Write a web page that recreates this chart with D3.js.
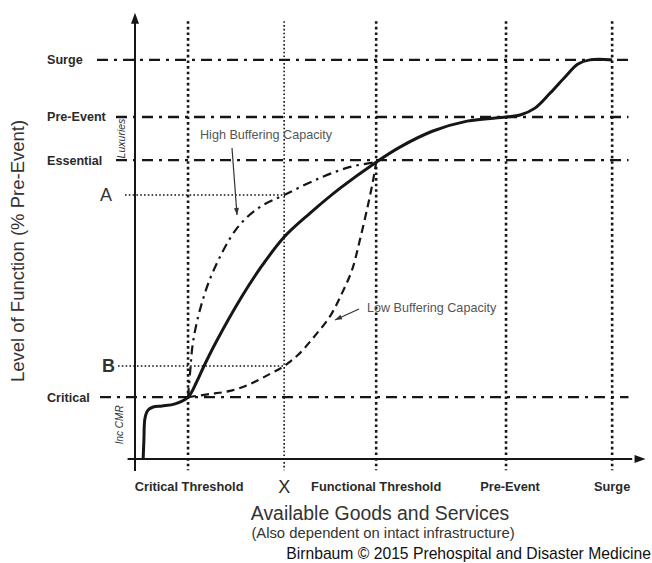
<!DOCTYPE html>
<html>
<head>
<meta charset="utf-8">
<script src="https://cdn.jsdelivr.net/npm/d3@7.9.0/dist/d3.min.js"></script>
<style>
  body { margin: 0; background: #fff; }
  svg { display: block; font-family: 'Liberation Sans', Arial, sans-serif; }
</style>
</head>
<body>
<svg id="chart" width="652" height="563"></svg>
<script>
// goods as % of pre-event supply (x), function as % of pre-event (y)
const xTickLabels = ['Critical Threshold', 'X', 'Functional Threshold', 'Pre-Event', 'Surge'];
const xTickValues = [14.3, 40.2, 65.0, 100, 128.6];

const levelLabels = ['Surge', 'Pre-Event', 'Essential', 'Critical'];
const levelValues = [116.7, 100, 87.4, 18.1];

const pointLabels = ['A', 'B'];
const pointValues = [77.2, 27.2];

const mainCurve = [
  [2.2, 0], [2.4, 5.6], [2.7, 12.0], [3.5, 14.3], [4.9, 15.2], [7.3, 15.5],
  [10.8, 16.1], [14.3, 18.1], [16.6, 22.5], [18.6, 27.2], [22.0, 34.5],
  [28.8, 47.5], [33.9, 56.0], [40.2, 64.9], [47.2, 71.9], [55.3, 79.2],
  [65.0, 86.8], [71.4, 91.2], [80.3, 95.9], [89.5, 98.8], [100, 100],
  [103.8, 100.6], [107.8, 102.6], [111.9, 107.0], [115.9, 111.7],
  [119.4, 115.5], [122.6, 116.7], [128.6, 116.7]
];

const highBuffer = [
  [14.3, 18.1], [14.9, 26.0], [15.6, 33.9], [17.5, 43.6], [21.0, 54.7],
  [27.5, 67.5], [33.7, 73.7], [40.2, 77.2], [49.9, 82.2], [58.0, 85.4], [65.0, 86.8]
];

const lowBuffer = [
  [14.3, 18.1], [20.2, 19.0], [25.6, 19.9], [31.0, 21.9], [36.4, 24.9],
  [40.2, 27.2], [43.9, 30.4], [48.0, 35.4], [52.6, 41.8], [55.8, 48.5],
  [58.5, 55.3], [60.6, 64.0], [62.8, 74.3], [64.2, 81.6], [65.0, 86.8]
];

const svg = d3.select('#chart');
const ink = '#161616';

const x = d3.scaleLinear().domain([0, 136]).range([135, 639.6]);
const y = d3.scaleLinear().domain([0, 130]).range([459, 14.4]);

// vertical reference lines (dotted)
svg.append('g')
  .selectAll('line')
  .data(xTickValues)
  .join('line')
  .attr('x1', d => x(d)).attr('x2', d => x(d))
  .attr('y1', y(128)).attr('y2', y(-3.3))
  .attr('stroke', ink)
  .attr('stroke-width', (d, i) => i === 1 ? 1.6 : 2.6)
  .attr('stroke-dasharray', (d, i) => i === 1 ? '1.6,2.2' : '2.6,3')
  .attr('stroke-linecap', 'butt');

// horizontal level lines (dash-dot)
const levelStart = [97, 116, 116, 100];
svg.append('g')
  .selectAll('line')
  .data(levelValues)
  .join('line')
  .attr('x1', (d, i) => levelStart[i]).attr('x2', x(133))
  .attr('y1', d => y(d)).attr('y2', d => y(d))
  .attr('stroke', ink)
  .attr('stroke-width', 2.4)
  .attr('stroke-dasharray', '11,6,3,6');

// A and B fine dotted lines up to the X line
const pointStart = [125, 118];
svg.append('g')
  .selectAll('line')
  .data(pointValues)
  .join('line')
  .attr('x1', (d, i) => pointStart[i]).attr('x2', x(xTickValues[1]))
  .attr('y1', d => y(d)).attr('y2', d => y(d))
  .attr('stroke', ink)
  .attr('stroke-width', 1.6)
  .attr('stroke-dasharray', '1.6,2.2');

// axes
svg.append('line')
  .attr('x1', x(0)).attr('x2', x(0))
  .attr('y1', y(127.5)).attr('y2', y(-3.5))
  .attr('stroke', ink).attr('stroke-width', 2);
svg.append('line')
  .attr('x1', x(-2)).attr('x2', x(134))
  .attr('y1', y(0)).attr('y2', y(0))
  .attr('stroke', ink).attr('stroke-width', 2);
svg.append('path')
  .attr('d', `M${x(0)},${y(130.5)} l-4,11 l8,0 Z`)
  .attr('fill', ink);
svg.append('path')
  .attr('d', `M${x(137.6)},${y(0)} l-11,-4 l0,8 Z`)
  .attr('fill', ink);

const line = d3.line()
  .x(d => x(d[0]))
  .y(d => y(d[1]))
  .curve(d3.curveCatmullRom.alpha(0.5));

svg.append('path')
  .datum(highBuffer)
  .attr('d', line)
  .attr('fill', 'none')
  .attr('stroke', ink)
  .attr('stroke-width', 2.2)
  .attr('stroke-dasharray', '9,5,2.5,5');

svg.append('path')
  .datum(lowBuffer)
  .attr('d', line)
  .attr('fill', 'none')
  .attr('stroke', ink)
  .attr('stroke-width', 2.2)
  .attr('stroke-dasharray', '8,5');

svg.append('path')
  .datum(mainCurve)
  .attr('d', line)
  .attr('fill', 'none')
  .attr('stroke', ink)
  .attr('stroke-width', 3);

// level labels on the left
svg.append('g')
  .selectAll('text')
  .data(levelLabels)
  .join('text')
  .attr('x', 47)
  .attr('y', (d, i) => y(levelValues[i]))
  .attr('dy', '0.35em')
  .attr('font-size', 12.6)
  .attr('font-weight', 'bold')
  .attr('fill', '#2a2a2a')
  .text(d => d);

svg.append('g')
  .selectAll('text')
  .data(pointLabels)
  .join('text')
  .attr('x', (d, i) => i === 0 ? 100 : 102)
  .attr('y', (d, i) => y(pointValues[i]))
  .attr('dy', '0.36em')
  .attr('font-size', 18)
  .attr('font-weight', (d, i) => i === 1 ? 'bold' : 'normal')
  .attr('fill', '#333')
  .text(d => d);

// small rotated notes
svg.append('text')
  .attr('transform', `translate(125,${(y(levelValues[1]) + y(levelValues[2])) / 2}) rotate(-90)`)
  .attr('text-anchor', 'middle')
  .attr('font-size', 10.5)
  .attr('font-style', 'italic')
  .attr('fill', '#333')
  .text('Luxuries');

svg.append('text')
  .attr('transform', `translate(123,${y(10)}) rotate(-90)`)
  .attr('text-anchor', 'middle')
  .attr('font-size', 10)
  .attr('font-style', 'italic')
  .attr('fill', '#333')
  .text('Inc CMR');

// x labels
svg.append('g')
  .selectAll('text')
  .data(xTickLabels)
  .join('text')
  .attr('x', (d, i) => x(xTickValues[i]) + [1, 0, 0, 4, 0][i])
  .attr('y', 487)
  .attr('dy', '0.35em')
  .attr('text-anchor', 'middle')
  .attr('font-size', (d, i) => i === 1 ? 18 : 12.8)
  .attr('font-weight', (d, i) => i === 1 ? 'normal' : 'bold')
  .attr('fill', '#2a2a2a')
  .text(d => d);

// axis titles
svg.append('text')
  .attr('transform', `translate(18,251) rotate(-90)`)
  .attr('text-anchor', 'middle')
  .attr('dy', '0.35em')
  .attr('font-size', 18.5)
  .attr('fill', '#333')
  .text('Level of Function (% Pre-Event)');

svg.append('text')
  .attr('x', 380).attr('y', 513)
  .attr('dy', '0.35em')
  .attr('text-anchor', 'middle')
  .attr('font-size', 19.4)
  .attr('fill', '#333')
  .text('Available Goods and Services');

svg.append('text')
  .attr('x', 383).attr('y', 533)
  .attr('dy', '0.35em')
  .attr('text-anchor', 'middle')
  .attr('font-size', 14.8)
  .attr('fill', '#333')
  .text('(Also dependent on intact infrastructure)');

svg.append('text')
  .attr('x', 651).attr('y', 554)
  .attr('dy', '0.35em')
  .attr('text-anchor', 'end')
  .attr('font-size', 15.7)
  .attr('fill', '#111')
  .text('Birnbaum © 2015 Prehospital and Disaster Medicine');

// curve annotations with arrows
const notes = [
  { text: 'High Buffering Capacity', tx: 200, ty: 135, from: [232, 148], to: [237, 215] },
  { text: 'Low Buffering Capacity', tx: 367, ty: 308, from: [359, 309], to: [335, 320] }
];

svg.append('g')
  .selectAll('text')
  .data(notes)
  .join('text')
  .attr('x', d => d.tx).attr('y', d => d.ty)
  .attr('dy', '0.35em')
  .attr('font-size', 12.6)
  .attr('fill', '#555')
  .text(d => d.text);

svg.append('g')
  .selectAll('line')
  .data(notes)
  .join('line')
  .attr('x1', d => d.from[0]).attr('y1', d => d.from[1])
  .attr('x2', d => d.to[0]).attr('y2', d => d.to[1])
  .attr('stroke', '#333').attr('stroke-width', 1.2);

svg.append('g')
  .selectAll('path')
  .data(notes)
  .join('path')
  .attr('d', d => {
    const a = Math.atan2(d.to[1] - d.from[1], d.to[0] - d.from[0]);
    const l = 7, w = 2.5;
    const bx = d.to[0] - l * Math.cos(a), by = d.to[1] - l * Math.sin(a);
    const px = -Math.sin(a) * w, py = Math.cos(a) * w;
    return `M${d.to[0]},${d.to[1]} L${bx + px},${by + py} L${bx - px},${by - py} Z`;
  })
  .attr('fill', '#333');
</script>
</body>
</html>
